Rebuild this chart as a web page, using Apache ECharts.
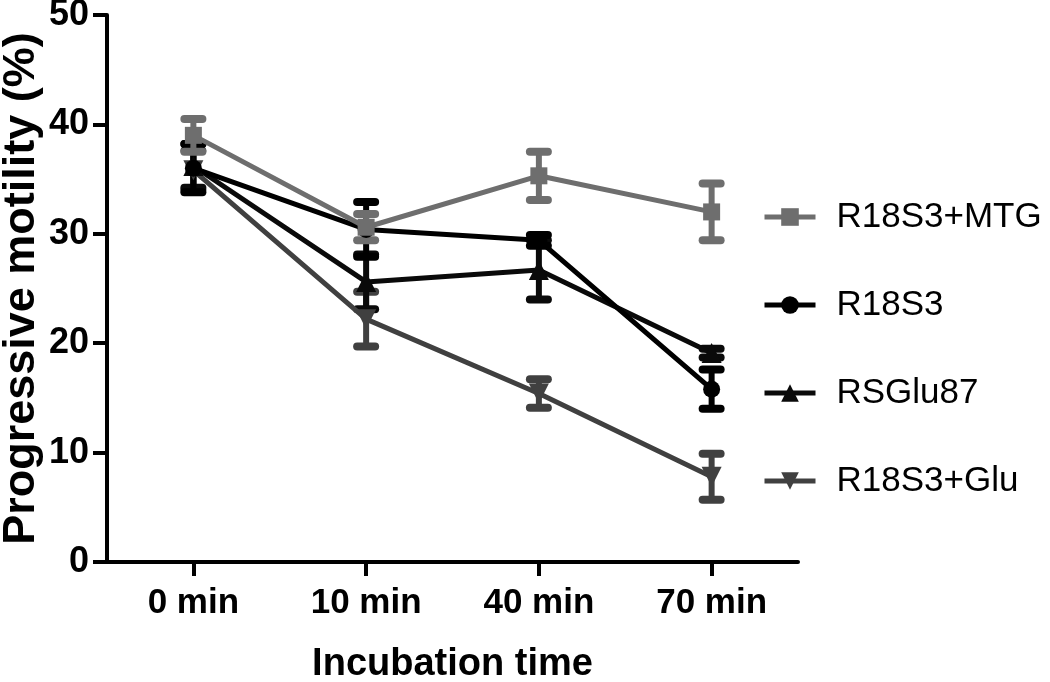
<!DOCTYPE html>
<html>
<head>
<meta charset="utf-8">
<script src="https://cdn.jsdelivr.net/npm/echarts@6/dist/echarts.min.js"></script>
<style>html,body{margin:0;padding:0;background:#fff}#c{width:1050px;height:682px}</style>
</head>
<body>
<div id="c"></div>
<script>
var categories = ['0 min', '10 min', '40 min', '70 min'];
var seriesNames = ['R18S3+MTG', 'R18S3', 'RSGlu87', 'R18S3+Glu'];
var mtgMean = [39.0, 30.6, 35.3, 32.0];
var mtgErr  = [1.5, 1.2, 2.2, 2.6];
var r18Mean = [36.0, 30.4, 29.4, 15.8];
var r18Err  = [2.2, 2.5, 0.5, 1.8];
var rsgMean = [36.2, 25.6, 26.7, 19.1];
var rsgErr  = [2.0, 2.5, 2.7, 0.4];
var gluMean = [35.8, 22.2, 15.4, 7.8];
var gluErr  = [1.8, 2.5, 1.3, 2.1];
var yTicks = [0, 10, 20, 30, 40, 50];

var means = [mtgMean, r18Mean, rsgMean, gluMean];
var errs = [mtgErr, r18Err, rsgErr, gluErr];
var colors = ['#6e6e6e', '#000000', '#0a0a0a', '#404040'];
var symbols = ['rect', 'circle', 'triangle', 'triangle'];
var symbolSizes = [17, 17, 20, 20];
var symbolRotates = [0, 0, 0, 180];

var axisFont = "'Liberation Sans', Arial, sans-serif";

function errSeries(idx) {
  var color = colors[idx];
  var data = means[idx].map(function (m, i) { return [i, m + errs[idx][i], m - errs[idx][i]]; });
  return {
    type: 'custom',
    name: seriesNames[idx] + ' err',
    z: 1,
    silent: true,
    data: data,
    renderItem: function (params, api) {
      var x = api.value(0);
      var p1 = api.coord([x, api.value(1)]);
      var p2 = api.coord([x, api.value(2)]);
      var cw = 26, ch = 8;
      return {
        type: 'group',
        children: [
          { type: 'line', shape: { x1: p1[0], y1: p1[1], x2: p2[0], y2: p2[1] }, style: { stroke: color, lineWidth: 6 } },
          { type: 'rect', shape: { x: p1[0] - cw / 2, y: p1[1] - ch / 2, width: cw, height: ch, r: 4 }, style: { fill: color } },
          { type: 'rect', shape: { x: p2[0] - cw / 2, y: p2[1] - ch / 2, width: cw, height: ch, r: 4 }, style: { fill: color } }
        ]
      };
    }
  };
}

var series = [];
for (var k = 3; k >= 0; k--) series.push(errSeries(k));
for (var j = 3; j >= 0; j--) {
  series.push({
    type: 'line',
    name: seriesNames[j],
    data: means[j],
    z: 3,
    color: colors[j],
    symbol: symbols[j],
    symbolSize: symbolSizes[j],
    symbolRotate: symbolRotates[j],
    showAllSymbol: true,
    lineStyle: { color: colors[j], width: 5 },
    itemStyle: { color: colors[j], opacity: 1 },
    emphasis: { disabled: true },
    animation: false
  });
}

var chart = echarts.init(document.getElementById('c'), null, { renderer: 'canvas' });
chart.setOption({
  animation: false,
  backgroundColor: '#ffffff',
  grid: { left: 107, right: 252, top: 15, bottom: 120, containLabel: false, outerBoundsMode: 'none' },
  xAxis: {
    type: 'category',
    data: categories,
    boundaryGap: true,
    axisLine: { show: true, lineStyle: { color: '#000', width: 4 } },
    axisTick: { show: true, alignWithLabel: true, interval: 0, length: 14, lineStyle: { color: '#000', width: 4 } },
    axisLabel: { interval: 0, color: '#000', fontFamily: axisFont, fontWeight: 'bold', fontSize: 35, margin: 24 },
    name: 'Incubation time',
    nameLocation: 'middle',
    nameGap: 84,
    nameMoveOverlap: false,
    nameTextStyle: { color: '#000', fontFamily: axisFont, fontWeight: 'bold', fontSize: 38 },
    splitLine: { show: false }
  },
  yAxis: {
    type: 'value',
    min: yTicks[0],
    max: yTicks[yTicks.length - 1],
    interval: yTicks[1] - yTicks[0],
    axisLine: { show: true, lineStyle: { color: '#000', width: 4 } },
    axisTick: { show: true, length: 14, lineStyle: { color: '#000', width: 4 } },
    axisLabel: { color: '#000', fontFamily: axisFont, fontWeight: 'bold', fontSize: 36, margin: 18 },
    name: 'Progressive motility (%)',
    nameLocation: 'middle',
    nameGap: 63,
    nameMoveOverlap: false,
    nameTextStyle: { color: '#000', fontFamily: axisFont, fontWeight: 'bold', fontSize: 45 },
    splitLine: { show: false }
  },
  legend: {
    orient: 'vertical',
    left: 757,
    top: 192,
    itemWidth: 51,
    itemHeight: 22,
    itemGap: 48,
    data: seriesNames,
    selectedMode: false,
    lineStyle: { width: 5 },
    textStyle: { color: '#000', fontFamily: axisFont, fontSize: 35, lineHeight: 40, padding: [0, 0, 0, 16] }
  },
  series: series
});
</script>
</body>
</html>
